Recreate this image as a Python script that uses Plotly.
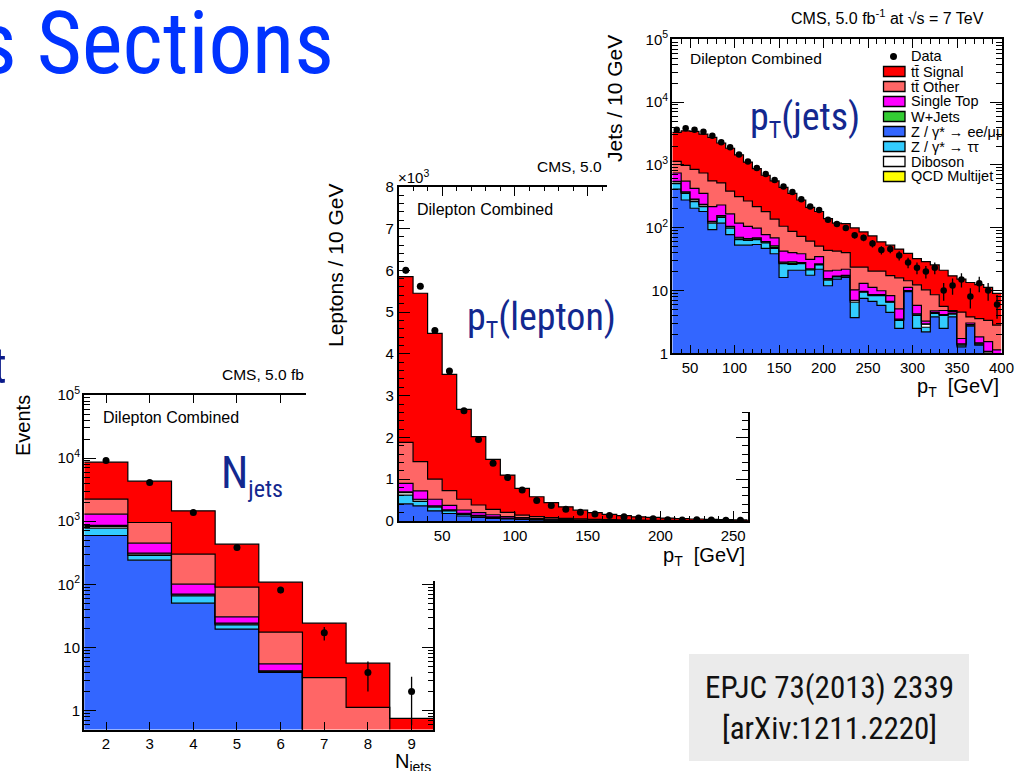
import numpy as np
import plotly.graph_objects as go

W, H = 1015, 771
SANS = "Liberation Sans, Arial, Helvetica, sans-serif"
NARROW = "Roboto Condensed, Liberation Sans, Arial, sans-serif"
NAVY = "#13288f"


def fx(p):
    return p / W


def fy(p):
    return 1 - p / H


# process colours
C_SIG, C_OTH, C_ST, C_WJ = "#ff0000", "#ff6666", "#ff00ff", "#33cc33"
C_ZLL, C_ZTT, C_VV, C_QCD = "#3366ff", "#33ccff", "#ffffff", "#ffff00"

# ---------------- jet multiplicity ----------------
nj_bins = [2, 3, 4, 5, 6, 7, 8, 9]
nj_edges = [1.5, 2.5, 3.5, 4.5, 5.5, 6.5, 7.5, 8.5, 9.5]
nj_zll = [593, 241, 50.2, 19.5, 4.0, 0.2, 0.05, 0.01]
nj_ztt = [183, 45, 15.5, 3.3, 0.1, 0.05, 0.02, 0.01]
nj_vv = [54, 15, 2.5, 0.8, 0.1, 0.05, 0.02, 0.01]
nj_wj = [30, 10, 1.6, 0.6, 0.06, 0.02, 0.01, 0.0]
nj_st = [432, 138, 30.7, 6.3, 1.24, 0.13, 0.1, 0.05]
nj_oth = [942, 504, 199.5, 59.5, 11.9, 2.88, 0.92, 0.27]
nj_sig = [6376, 3357, 1160, 343, 90.6, 20.9, 4.5, 0.4]
nj_data = [9160, 4105, 1374, 383, 81, 17, 4, 2]

# ---------------- lepton pT (per 10 GeV) ----------------
lep_edges = list(range(20, 261, 10))
lep_zll = [410, 360, 240, 180, 120, 88, 64, 48, 36, 27, 20, 15, 11, 8, 6, 5, 4, 3, 2, 2, 1.5, 1, 1, 1]
lep_ztt = [210, 110, 90, 60, 40, 27, 19, 12, 9, 7, 5, 3, 2, 2, 2, 1, 1, 1, 1, 0.5, 0.5, 0.5, 0.2, 0]
lep_vv = [60, 38, 23, 19, 19, 15, 11, 8, 5, 4.5, 4, 3, 2, 1.5, 0.8, 0.8, 0.8, 0.8, 0.8, 0.4, 0.4, 0.4, 0.2, 0.1]
lep_wj = [20, 12, 7, 6, 6, 5, 4, 2, 2, 1.5, 1, 1, 1, 0.5, 0.2, 0.2, 0.2, 0.2, 0.2, 0.1, 0.1, 0.1, 0.1, 0.1]
lep_st = [200, 200, 160, 110, 78, 65, 52, 34, 28, 20, 15, 12, 10, 8, 6, 5, 3, 2, 2, 2, 1.5, 1, 1, 0.8]
lep_oth = [980, 700, 480, 351, 257, 183, 130, 103, 60, 44, 35, 30, 24, 20, 17, 14, 12, 10, 8, 7, 6, 5, 4.5, 4]
lep_sig = [3970, 4030, 3490, 2784, 2150, 1637, 1195, 893, 640, 476, 360, 276, 210, 160, 128, 104, 79, 71, 56, 43,
           38, 32, 25, 19]
lep_data = [6000, 5620, 4560, 3590, 2640, 1950, 1380, 1040, 740, 490, 370, 280, 210, 170, 130, 100, 70, 56, 32, 24,
            30, 24, 16, 16]

# ---------------- jet pT (per 10 GeV) ----------------
jet_edges = list(range(30, 401, 10))
jet_zll = [411, 276, 204, 181, 93, 118, 77.6, 52.7, 52.7, 54, 46.7, 38.5, 16.1, 21, 21, 17.5, 21.8, 11.9, 15.2, 16.1,
           3.7, 7.5, 6.7, 5.8, 4.5, 2.5, 9.6, 2.5, 2.2, 3.8, 2.5, 3.8, 1.27, 2.7, 1.35, 0.95, 0.8]
jet_ztt = [94, 75, 56, 36, 25, 28, 21.2, 12, 10.3, 10.7, 10.7, 8.2, 10.7, 5.1, 5.8, 3.8, 3.7, 2.7, 1.3, 0.9,
           2.8, 1.9, 1.6, 2.5, 2.0, 0.85, 0.2, 1.5, 0.4, 0.5, 1.5, 0.4, 0.08, 0.1, 0.05, 0.05, 0.05]
jet_vv = [30, 16, 18, 13, 6, 7, 4.5, 3.5, 2.5, 2, 1.8, 1.5, 0.6, 0.8, 0.6, 0.5, 0.5, 0.6, 0.3, 0.3,
          0.4, 0.2, 0.2, 0.2, 0.1, 0.1, 0.1, 0.2, 0.3, 0.1, 0.1, 0.1, 0.05, 0.05, 0.05, 0.05, 0.05]
jet_wj = [12, 6, 8, 6, 2, 3, 2, 2.2, 1.5, 2.0, 1.0, 3.0, 0.8, 1.6, 0.5, 0.4, 0.5, 0.2, 0.2, 0.1,
          0.1, 0.1, 0.1, 0.1, 0.1, 0.05, 0.05, 0.05, 0.05, 0.05, 0.05, 0.05, 0.02, 0.02, 0.02, 0.02, 0.02]
jet_st = [196, 177, 136, 115, 91, 74, 61, 48, 38, 30, 17.4, 17.5, 14.2, 11.5, 10.6, 9.1, 8.0, 5.1, 4.0, 4.4,
          3.2, 3.3, 2.6, 1.3, 1.6, 1.6, 1.25, 1.55, 0.3, 0.3, 0.65, 0.3, 0.3, 0.17, 0.36, 0.46, 0.21]
jet_oth = [393, 432, 427, 392, 339, 287, 217, 193, 161, 118, 103, 68, 63, 47.5, 34.5, 29.7, 16.3, 22.9, 21.4, 18.2,
           13.3, 10.5, 9.1, 10.4, 9.0, 10.8, 3.1, 6.5, 7.0, 3.8, 0.8, 0.15, 2.8, 0.76, 1.73, 1.82, 1.67]
jet_sig = [2154, 2508, 2561, 2357, 2189, 1716, 1458, 1134, 843, 654, 503, 419, 332, 263.5, 203, 150, 130.2, 95.6,
           75.6, 76, 75.5, 62, 53.7, 39.2, 35.4, 29.7, 24.7, 19.8, 18.6, 17, 15.4, 12.3, 10.7, 9.6, 8.84, 7.85, 6.2]
jet_data = [3620, 3850, 3620, 3370, 2915, 2290, 1910, 1463, 1135, 891, 717, 577, 453, 369, 283, 217, 192, 134, 115,
            99, 76, 69, 56, 44, 46, 36, 28, 23, 20, 23, 10, 12, 15, 8, 13, 10, 6]

legend_labels = ["tt\u0304 Signal", "tt\u0304 Other", "Single Top", "W+Jets",
                 "Z / \u03b3* \u2192 ee/\u03bc\u03bc", "Z / \u03b3* \u2192 \u03c4\u03c4",
                 "Diboson", "QCD Multijet"]
legend_colors = [C_SIG, C_OTH, C_ST, C_WJ, C_ZLL, C_ZTT, C_VV, C_QCD]


def centers(edges):
    e = np.asarray(edges, dtype=float)
    return 0.5 * (e[:-1] + e[1:])


def add_stack(fig, edges, comps, xa, ya, scale=1.0):
    """Cumulative filled step histograms, bottom component first."""
    total = np.zeros(len(edges) - 1)
    for i, (vals, color) in enumerate(comps):
        total = total + np.asarray(vals, dtype=float)
        yv = np.append(total, total[-1]) * scale
        fig.add_trace(go.Scatter(
            x=edges, y=yv, mode="lines",
            line=dict(shape="hv", color="black", width=1.2),
            fill="tozeroy" if i == 0 else "tonexty", fillcolor=color,
            xaxis=xa, yaxis=ya, hoverinfo="skip", showlegend=False))


def add_data(fig, x, y, xa, ya, scale=1.0, size=7):
    y = np.asarray(y, dtype=float)
    fig.add_trace(go.Scatter(
        x=x, y=y * scale, mode="markers",
        marker=dict(color="black", size=size),
        error_y=dict(type="data", array=np.sqrt(y) * scale, color="black", thickness=1.3, width=0),
        xaxis=xa, yaxis=ya, hoverinfo="skip", showlegend=False))


def blank(xa, ya):
    # empty layer used as an opaque white panel
    fig.add_trace(go.Scatter(x=[], y=[], xaxis=xa, yaxis=ya, hoverinfo="skip", showlegend=False))


fig = go.Figure()

blank("x", "y")

# jet multiplicity panel
add_stack(fig, nj_edges, [(nj_zll, C_ZLL), (nj_ztt, C_ZTT), (nj_vv, C_VV), (nj_wj, C_WJ),
                          (nj_st, C_ST), (nj_oth, C_OTH), (nj_sig, C_SIG)], "x2", "y2")
add_data(fig, nj_bins, nj_data, "x2", "y2")

# white sheet behind the lepton pT panel
blank("x3", "y3")

# lepton pT panel (axis in units of 10^3)
add_stack(fig, lep_edges, [(lep_zll, C_ZLL), (lep_ztt, C_ZTT), (lep_vv, C_VV), (lep_wj, C_WJ),
                           (lep_st, C_ST), (lep_oth, C_OTH), (lep_sig, C_SIG)], "x4", "y4", scale=1e-3)
add_data(fig, centers(lep_edges), lep_data, "x4", "y4", scale=1e-3)

# white sheet behind the jet pT panel
blank("x5", "y5")

# jet pT panel
add_stack(fig, jet_edges, [(jet_zll, C_ZLL), (jet_ztt, C_ZTT), (jet_vv, C_VV), (jet_wj, C_WJ),
                           (jet_st, C_ST), (jet_oth, C_OTH), (jet_sig, C_SIG)], "x6", "y6")
add_data(fig, centers(jet_edges), jet_data, "x6", "y6", size=6.5)


def frame(**kw):
    d = dict(showline=True, linecolor="black", linewidth=1.5, mirror="ticks",
             ticks="inside", tickcolor="black", tickwidth=1.2, showgrid=False, zeroline=False,
             tickfont=dict(family=SANS, size=15, color="black"), fixedrange=True, automargin=False)
    d.update(kw)
    return d


def hidden(**kw):
    d = dict(showline=False, showticklabels=False, ticks="", showgrid=False, zeroline=False,
             range=[0, 1], fixedrange=True, automargin=False)
    d.update(kw)
    return d


LOG_MINOR = dict(ticks="inside", ticklen=6, dtick="D1", tickcolor="black", tickwidth=1)
POWER_FONT = dict(family=SANS, size=12, color="black")

fig.update_layout(
    template="none",
    width=W, height=H, autosize=False,
    margin=dict(l=0, r=0, t=0, b=0, pad=0),
    paper_bgcolor="#ffffff", plot_bgcolor="#ffffff",
    showlegend=False,
    xaxis=hidden(domain=[0, 1], anchor="y"),
    yaxis=hidden(domain=[0, 1], anchor="x"),
    xaxis2=frame(domain=[fx(84.2), fx(433.4)], range=[1.5, 9.5], dtick=1, tick0=0, ticklen=8, anchor="y2"),
    yaxis2=frame(type="log", domain=[fy(729.5), fy(395)], range=[np.log10(0.5), 5], dtick=1, tick0=0,
                 exponentformat="power", ticklen=12, tickfont=POWER_FONT, minor=LOG_MINOR, anchor="x2"),
    xaxis3=hidden(domain=[fx(306), fx(762)], anchor="y3"),
    yaxis3=hidden(domain=[fy(581), fy(150)], anchor="x3"),
    xaxis4=frame(domain=[fx(398.5), fx(747.7)], range=[20, 260], dtick=50, tick0=0, ticklen=10,
                 minor=dict(ticks="inside", ticklen=5, dtick=10, tickcolor="black", tickwidth=1), anchor="y4"),
    yaxis4=frame(domain=[fy(521), fy(186.7)], range=[0, 8], dtick=1, tick0=0, ticklen=12,
                 minor=dict(ticks="inside", ticklen=6, dtick=0.2, tickcolor="black", tickwidth=1), anchor="x4"),
    xaxis5=hidden(domain=[fx(607), 1], anchor="y5"),
    yaxis5=hidden(domain=[fy(412), 1], anchor="x5"),
    xaxis6=frame(domain=[fx(672.3), fx(1001.5)], range=[30, 400], dtick=50, tick0=0, ticklen=9,
                 minor=dict(ticks="inside", ticklen=5, dtick=10, tickcolor="black", tickwidth=1), anchor="y6"),
    yaxis6=frame(type="log", domain=[fy(353.3), fy(39.3)], range=[0, 5], dtick=1, tick0=0,
                 exponentformat="power", ticklen=12, tickfont=POWER_FONT, minor=LOG_MINOR, anchor="x6"),
)


def ann(text, x, y, size, color="black", family=SANS, xanchor="left", yanchor="middle", angle=0):
    return dict(text=text, x=fx(x), y=fy(y), xref="paper", yref="paper", xanchor=xanchor, yanchor=yanchor,
                showarrow=False, font=dict(family=family, size=size, color=color), textangle=angle)


SUB_J = "<sub><span style='font-size:24px'>jets</span></sub>"
SUB_T = "<sub><span style='font-size:24px'>T</span></sub>"

annotations = [
    # slide text
    ann("s Sections", 336, 43, 87, color="#0033ff", family=NARROW, xanchor="right"),
    ann("t", 9, 366, 50, color="#0a1a8a", family=NARROW, xanchor="right"),
    ann("EPJC 73(2013) 2339", 829, 687, 31, color="#111111", family=NARROW, xanchor="center"),
    ann("[arXiv:1211.2220]", 829, 728, 31, color="#111111", family=NARROW, xanchor="center"),
    ann("N" + SUB_J, 219, 475, 44, color=NAVY, family=NARROW),
    ann("p" + SUB_T + "(lepton)", 465, 319, 38, color=NAVY, family=NARROW),
    ann("p" + SUB_T + "(jets)", 748, 119, 38, color=NAVY, family=NARROW),
    # jet multiplicity panel
    ann("CMS, 5.0 fb", 306, 374, 15.5, xanchor="right"),
    ann("Dilepton Combined", 101, 417, 16),
    ann("Events", 23, 426, 20, xanchor="center", angle=-90),
    ann("N<sub>jets</sub>", 433, 762, 20, xanchor="right"),
    # lepton pT panel
    ann("CMS, 5.0", 604, 166, 15.5, xanchor="right"),
    ann("Dilepton Combined", 415, 209.5, 16),
    ann("\u00d710<sup>3</sup>", 396, 177, 15),
    ann("Leptons / 10 GeV", 335, 266, 21, xanchor="center", angle=-90),
    ann("p<sub>T</sub>  [GeV]", 747, 556, 20, xanchor="right"),
    # jet pT panel
    ann("CMS, 5.0 fb<sup>-1</sup> at \u221as = 7 TeV", 986, 17, 16, xanchor="right"),
    ann("Dilepton Combined", 688, 59, 15.5),
    ann("Jets / 10 GeV", 615, 99, 21, xanchor="center", angle=-90),
    ann("p<sub>T</sub>  [GeV]", 1001, 387, 20, xanchor="right"),
]

shapes = [
    dict(type="rect", xref="paper", yref="paper", x0=fx(689), x1=fx(969), y0=fy(761), y1=fy(654),
         fillcolor="#ebebeb", line=dict(width=0), layer="below"),
]

# legend of the jet pT panel
row0, drow = 56.5, 15.0
annotations.append(ann("Data", 909, row0, 14.5))
shapes.append(dict(type="circle", xref="paper", yref="paper", x0=fx(890), x1=fx(897), y0=fy(row0 + 3.5),
                   y1=fy(row0 - 3.5), fillcolor="black", line=dict(width=0), layer="above"))
for i, (lab, col) in enumerate(zip(legend_labels, legend_colors)):
    yc = row0 + drow * (i + 1)
    shapes.append(dict(type="rect", xref="paper", yref="paper", x0=fx(883.5), x1=fx(905), y0=fy(yc + 5),
                       y1=fy(yc - 5), fillcolor=col, line=dict(color="black", width=1.3), layer="above"))
    annotations.append(ann(lab, 909, yc, 14.5))

fig.update_layout(annotations=annotations, shapes=shapes)

fig.write_html("out.html")
